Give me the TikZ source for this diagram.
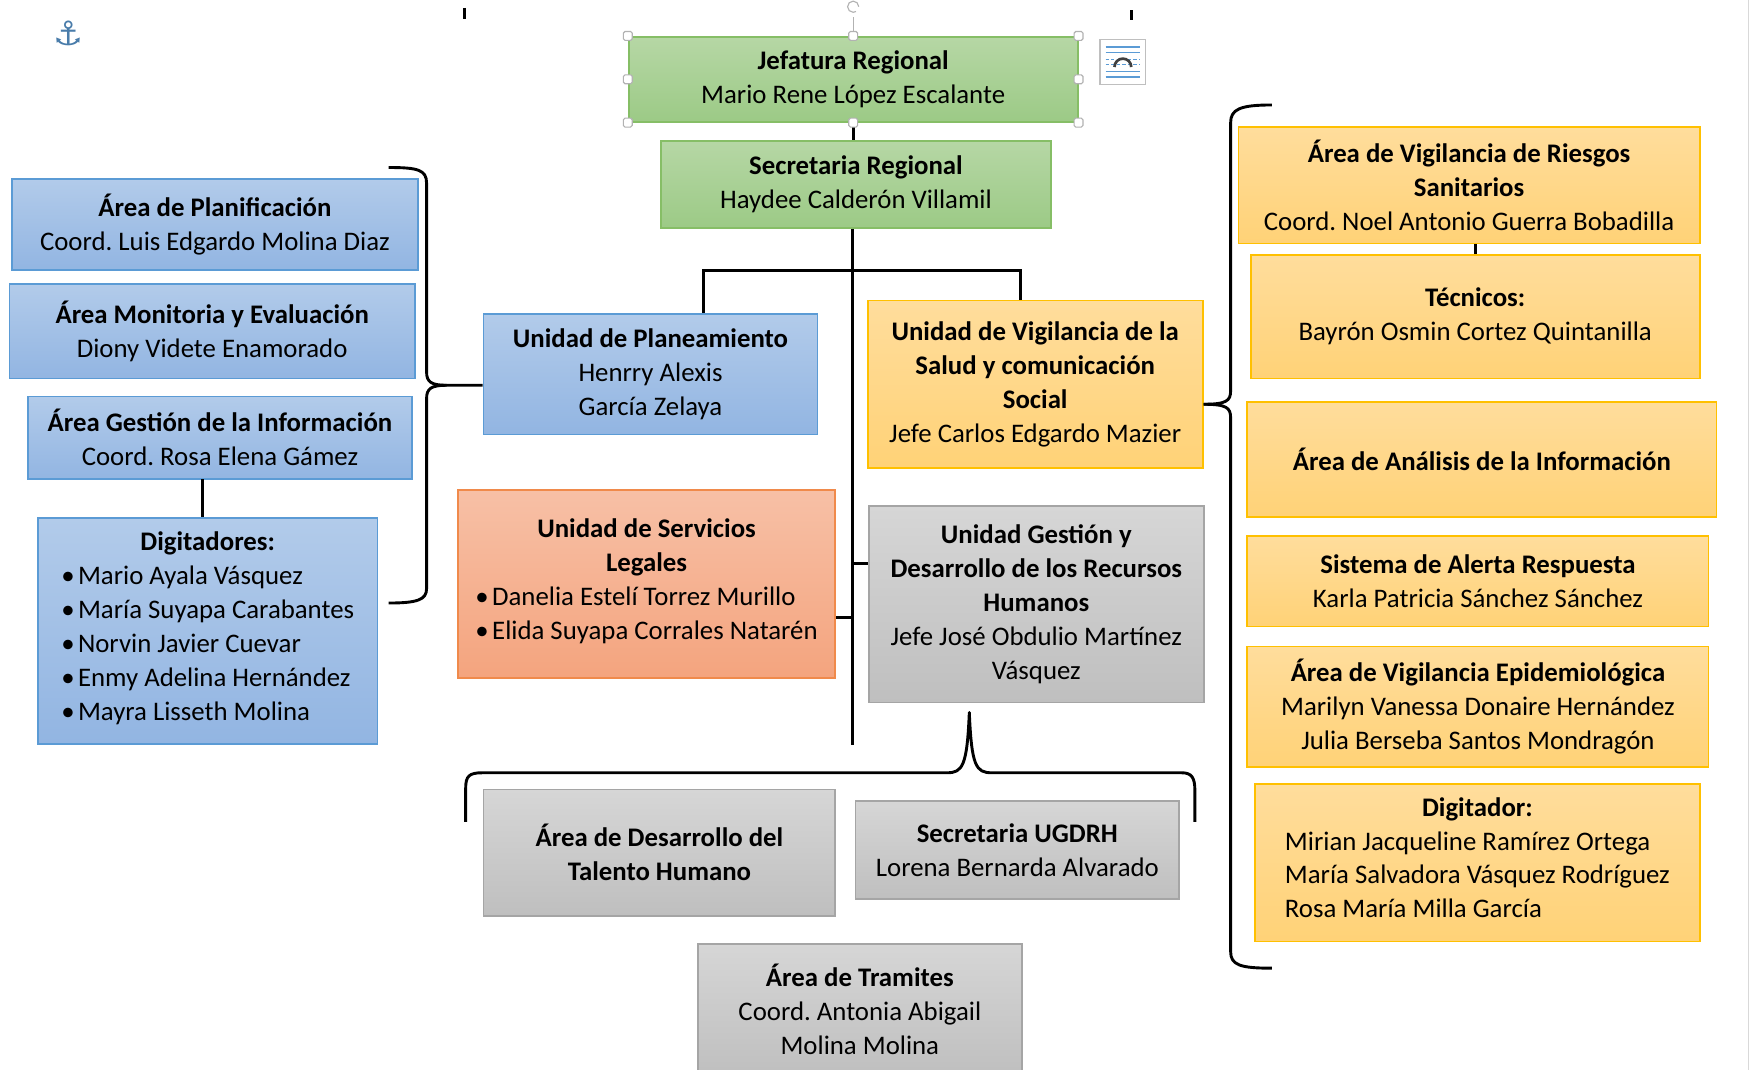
\documentclass[tikz,border=0pt]{standalone}
\usepackage{fontspec}
\setmainfont{Carlito}
\newfontfamily\dejavu{DejaVu Sans}
\frenchspacing
\definecolor{bluetop}{HTML}{B2CBEA}
\definecolor{bluebot}{HTML}{92B5E2}
\definecolor{blueline}{HTML}{5B9BD5}
\definecolor{greentop}{HTML}{B6D7A5}
\definecolor{greenbot}{HTML}{9CCA86}
\definecolor{greenline}{HTML}{86BE66}
\definecolor{yeltop}{HTML}{FFDD9C}
\definecolor{yelbot}{HTML}{FFD277}
\definecolor{yelline}{HTML}{FFC000}
\definecolor{saltop}{HTML}{F7C0A6}
\definecolor{salbot}{HTML}{F4A47E}
\definecolor{salline}{HTML}{F08A4B}
\definecolor{graytop}{HTML}{D6D6D6}
\definecolor{graybot}{HTML}{BFBFBF}
\definecolor{grayline}{HTML}{A5A5A5}
\begin{document}
\begin{tikzpicture}[x=1pt,y=-1pt]
			\tikzset{box/.style = {draw, line width=1.6pt, inner sep=0pt, align=center, font=\fontsize{24}{30.4}\selectfont}}
			\tikzset{bluebox/.style = {box, draw=blueline, top color=bluetop, bottom color=bluebot}}
			\tikzset{greenbox/.style = {box, draw=greenline, top color=greentop, bottom color=greenbot}}
			\tikzset{yelbox/.style = {box, draw=yelline, top color=yeltop, bottom color=yelbot}}
			\tikzset{salbox/.style = {box, draw=salline, top color=saltop, bottom color=salbot}}
			\tikzset{graybox/.style = {box, draw=grayline, top color=graytop, bottom color=graybot}}
			\tikzset{edge/.style = {line width=2.6pt, black}}
			\tikzset{brace/.style = {line width=2.6pt, black, line join=round}}
			\tikzset{handle/.style = {draw=gray!60, fill=white, line width=1pt, rounded corners=1.5pt}}
			\useasboundingbox (0,0) rectangle (1568,958);
			\fill[white] (0,0) rectangle (1568,958);
			\clip (0,0) rectangle (1568,958);
			% Draw centre column
			\node[greenbox, minimum width=402pt, minimum height=76pt] (jef) at (764,71) {\textbf{Jefatura Regional}\\Mario Rene López Escalante};
			\node[greenbox, minimum width=349pt, minimum height=78pt] (sec) at (766.5,165) {\textbf{Secretaria Regional}\\Haydee Calderón Villamil};
			\node[bluebox, minimum width=299pt, minimum height=108pt] (plan) at (582.5,335) {\textbf{Unidad de Planeamiento}\\Henrry Alexis\\García Zelaya};
			\node[yelbox, minimum width=300pt, minimum height=150pt] (vig) at (927,344) {\textbf{Unidad de Vigilancia de la}\\\textbf{Salud y comunicación}\\\textbf{Social}\\Jefe Carlos Edgardo Mazier};
			\node[salbox, minimum width=338pt, minimum height=168pt] (legal) at (579,523) {\textbf{Unidad de Servicios}\\\textbf{Legales}\\\begin{tabular}[t]{@{}l@{}}•\hspace{3pt}Danelia Estelí Torrez Murillo\\•\hspace{3pt}Elida Suyapa Corrales Natarén\end{tabular}};
			\node[graybox, minimum width=300pt, minimum height=176pt] (gest) at (928,541) {\textbf{Unidad Gestión y}\\\textbf{Desarrollo de los Recursos}\\\textbf{Humanos}\\Jefe José Obdulio Martínez\\Vásquez};
			\node[graybox, minimum width=315pt, minimum height=113pt] (talento) at (590.5,763.5) {\textbf{Área de Desarrollo del}\\\textbf{Talento Humano}};
			\node[graybox, minimum width=290pt, minimum height=88pt] (ugdrh) at (911,761) {\textbf{Secretaria UGDRH}\\Lorena Bernarda Alvarado};
			\node[graybox, minimum width=290pt, minimum height=118pt] (tram) at (770,904) {\textbf{Área de Tramites}\\Coord. Antonia Abigail\\Molina Molina};
			% Draw left column
			\node[bluebox, minimum width=363pt, minimum height=82pt] (aplan) at (192.5,201) {\textbf{Área de Planificación}\\Coord. Luis Edgardo Molina Diaz};
			\node[bluebox, minimum width=363pt, minimum height=85pt] (amon) at (190,296.5) {\textbf{Área Monitoria y Evaluación}\\Diony Videte Enamorado};
			\node[bluebox, minimum width=344pt, minimum height=74pt] (ginfo) at (197,392) {\textbf{Área Gestión de la Información}\\Coord. Rosa Elena Gámez};
			\node[bluebox, minimum width=304pt, minimum height=202pt] (digs) at (186,565) {\textbf{Digitadores:}\\\begin{tabular}[t]{@{}l@{}}•\hspace{3pt}Mario Ayala Vásquez\\•\hspace{3pt}María Suyapa Carabantes\\•\hspace{3pt}Norvin Javier Cuevar\\•\hspace{3pt}Enmy Adelina Hernández\\•\hspace{3pt}Mayra Lisseth Molina\end{tabular}\hspace{8pt}};
			% Draw right column
			\node[yelbox, minimum width=413pt, minimum height=104pt] (ries) at (1315.5,166) {\textbf{Área de Vigilancia de Riesgos}\\\textbf{Sanitarios}\\Coord. Noel Antonio Guerra Bobadilla};
			\node[yelbox, minimum width=402pt, minimum height=111pt] (tec) at (1321,283.5) {\textbf{Técnicos:}\\Bayrón Osmin Cortez Quintanilla};
			\node[yelbox, minimum width=420pt, minimum height=103pt] (anal) at (1327,411.5) {\textbf{Área de Análisis de la Información}};
			\node[yelbox, minimum width=413pt, minimum height=81pt] (alert) at (1323.5,520.5) {\textbf{Sistema de Alerta Respuesta}\\Karla Patricia Sánchez Sánchez};
			\node[yelbox, minimum width=413pt, minimum height=108pt] (epi) at (1323.5,633) {\textbf{Área de Vigilancia Epidemiológica}\\Marilyn Vanessa Donaire Hernández\\Julia Berseba Santos Mondragón};
			\node[yelbox, minimum width=398pt, minimum height=141pt] (digr) at (1323,772.5) {\textbf{Digitador:}\\\begin{tabular}[t]{@{}l@{}}Mirian Jacqueline Ramírez Ortega\\María Salvadora Vásquez Rodríguez\\Rosa María Milla García\end{tabular}};
			% Connectors
			\coordinate (trunkend) at (763,667);
			\coordinate (barL) at (630,242);
			\coordinate (barR) at (914,242);
			\coordinate (jR) at (763,505);
			\coordinate (jL) at (763,553);
			\coordinate (gd) at (181,429);
			\draw[edge] (jef.south) -- (jef.south |- sec.north);
			\draw[edge] (sec.south -| trunkend) -- (trunkend);
			\draw[edge] (barL |- plan.north) -- (barL) -- (barR) -- (barR |- vig.north);
			\draw[edge] (jR) -- (jR -| gest.west);
			\draw[edge] (jL) -- (jL -| legal.east);
			\draw[edge] (gd) -- (gd |- digs.north);
			\draw[edge] (tec.north |- ries.south) -- (tec.north);
			% Braces
			\draw[brace] (348,150) .. controls (374,150) and (382,152) .. (382,164) -- (382,333) .. controls (382,342) and (386,345) .. (400,345) -- (plan.west |- 0,345);
			\draw[brace] (400,345) .. controls (386,345) and (382,348) .. (382,357) -- (382,527) .. controls (382,537) and (374,540) .. (348,540);
			\draw[brace] (1139,94) .. controls (1110,94) and (1102,98) .. (1102,110) -- (1102,350) .. controls (1102,359) and (1098,362) .. (vig.east |- 0,362);
			\draw[brace] (vig.east |- 0,362) .. controls (1098,362) and (1102,365) .. (1102,374) -- (1102,852) .. controls (1102,864) and (1110,867) .. (1139,867);
			\draw[brace] (417,736) -- (417,706) .. controls (417,695) and (420,692) .. (432,692) -- (848,692) .. controls (862,692) and (866,686) .. (868,638) .. controls (870,686) and (874,692) .. (888,692) -- (1058,692) .. controls (1067,692) and (1070,696) .. (1070,708) -- (1070,736);
			% Word selection marks
			\draw[gray!60, line width=1pt] (jef.north) -- (764,15);
			\draw[gray!60, line width=1pt] (769,6) arc (0:300:5pt);
			\foreach \p in {jef.north west, jef.north, jef.north east, jef.west, jef.east, jef.south west, jef.south, jef.south east}
				\draw[handle] (\p) ++(-4,-4) rectangle ++(8,8);
			\draw[gray!50, line width=1pt, fill=white] (985,35) rectangle (1026,76);
			\foreach \y in {42,47,64,69}
				\draw[blueline, line width=1.2pt] (990,\y) -- (1021,\y);
			\draw[blueline, line width=1.2pt, dash pattern=on 3pt off 2pt] (990,53) -- (1021,53) (990,58) -- (1021,58);
			\draw[black!75, line width=2.4pt] (998,60) arc (180:0:7.5pt);
			\draw[black, line width=2.5pt] (416,7) -- (416,17);
			\draw[black, line width=2.5pt] (1013,9) -- (1013,18);
			\draw[gray!30, line width=1pt] (1566,0) -- (1566,958);
			\node[text=blueline!80!black, font=\dejavu\fontsize{30}{30}\selectfont] (anchor) at (61,30) {⚓};
		\end{tikzpicture}
\end{document}
